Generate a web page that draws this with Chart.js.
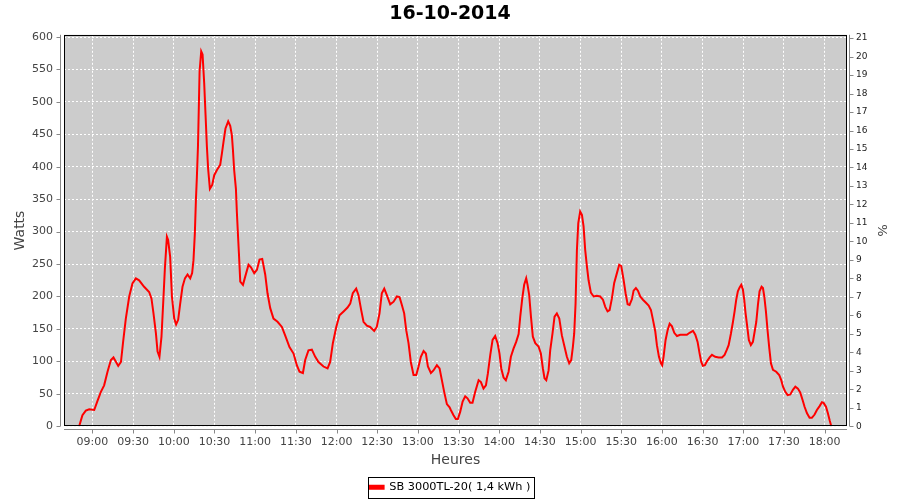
<!DOCTYPE html>
<html><head><meta charset="utf-8">
<style>html,body{margin:0;padding:0;background:#fff}#wrap{width:900px;height:500px;position:relative}</style>
<script src="https://cdn.jsdelivr.net/npm/chart.js@4"></script>
</head><body><div id="wrap"><canvas id="c" width="900" height="500"></canvas></div>
<script>
const chartTitle = "16-10-2014";
const seriesLabel = "SB 3000TL-20( 1,4 kWh )";
const xAxisTitle = "Heures";
const yAxisTitle = "Watts";
const y2AxisTitle = "%";
const timeTickLabels = ["09:00","09:30","10:00","10:30","11:00","11:30","12:00","12:30","13:00","13:30","14:00","14:30","15:00","15:30","16:00","16:30","17:00","17:30","18:00"];
// minutes since midnight
const times = [530.2,532.6,535.1,537.6,541.3,543.7,546.2,548.6,551.1,553.6,555.5,559,561,562.6,564.6,567.1,569.5,572,574.4,578.1,581.8,583.5,585,586.8,588,589.4,590.9,592.4,593.4,594.9,595.8,597.3,598.6,600.3,601.7,603.2,604.7,606.4,608.2,610.1,612.1,613.5,614.5,615.5,616.3,617,617.8,618.5,619,620.2,621.2,622.4,623.4,624.4,625.3,626.6,628.3,629.8,631.8,634.2,635.5,636.7,638.1,640.1,641.6,642.8,643.6,644.5,645.8,646.5,647.3,648,649,651,652.7,655.1,656.9,659.3,661.3,663.2,665.2,667.4,669.1,671.1,673.5,676.5,679.7,682.1,685.3,688.3,690.7,692.7,695.2,696.9,699.3,701.8,704.3,706.7,710.4,713.4,715.3,717.3,719.8,722.2,725.2,728.1,730.1,732,734.5,736.2,738.2,739.9,742.4,744.8,747.8,749.7,751.7,753.4,755.2,757.1,759.6,762.1,764.5,766.5,768.2,769.9,771.4,773.1,774.8,776.8,778.8,780.5,782.2,784.2,785.9,787.4,789.6,791.5,794,796,797.7,799.4,801.4,803.4,804.3,806.3,808,809.5,811.2,813,814.9,816.6,818.6,820.3,822.3,824.8,826.5,828.4,830.2,831.6,833.4,835.1,837,838.8,840.2,841.5,843.2,844.9,846.9,848.6,850.6,852.5,854.3,855.5,857,858.4,859.9,860.9,862.1,863.4,864.8,866.6,869,870.7,872.2,873.4,874.7,876.4,877.6,879.3,880.8,882.5,884.3,886.2,888.2,889.9,891.6,893.1,894.3,895.3,896.3,897.3,898.3,899.7,901,902.2,903.4,904.7,905.9,907.6,909.6,912,914.5,916.5,918.2,919.9,921.4,923.1,924.8,926.8,928.5,930,931.7,933.2,934.7,936.1,937.9,939.1,940.8,942.3,944,946,948.4,950.2,951.9,953.4,955.1,956.3,957.8,959.3,960.2,961.2,962.7,964.2,965.7,967.4,969.1,971.1,973.5,976,978.4,980.4,982.9,984.6,986.3,987.8,989,990.2,991.7,993.2,995.2,996.9,999.3,1001.8,1004.3,1006.2,1007.9,1009.2,1010.9,1012.4,1013.6,1014.8,1016,1017.3,1018.5,1019.7,1020.7,1021.7,1022.9,1024.1,1025.6,1027.1,1028.4,1029.6,1030.8,1032,1033.5,1034.5,1035.5,1036.7,1037.9,1039.2,1040.4,1041.9,1044.3,1046.5,1048,1049.3,1051,1052.7,1054.7,1056.6,1058.4,1060.3,1062,1063.8,1065.2,1067,1068.9,1070.6,1072.6,1074.3,1076.3,1078,1079.2,1081,1082.4,1083.7,1084.9];
const watts = [0,17,24,26,25,39,53,63,84,102,106,93,99,130,166,200,220,228,225,215,207,197,174,143,115,107,138,200,243,292,287,261,200,166,157,164,189,215,228,234,228,236,256,297,349,384,431,498,547,578,573,529,480,431,397,366,372,387,395,403,421,439,459,470,463,449,426,395,366,330,296,267,223,218,231,249,245,236,241,257,258,234,205,182,166,161,153,140,122,112,94,84,82,102,117,118,107,99,92,89,99,128,153,171,177,183,189,205,212,202,179,161,155,153,147,153,174,205,212,202,188,192,200,199,187,174,148,128,99,79,79,92,107,116,112,92,82,86,94,89,71,53,34,29,25,17,11,11,22,38,46,43,36,36,53,71,68,58,63,81,110,133,139,128,112,89,75,71,84,107,120,130,142,169,197,218,228,218,202,169,138,128,123,112,89,74,71,86,117,143,169,174,166,140,122,107,97,102,122,143,189,272,313,331,326,308,272,246,225,206,200,201,200,195,184,177,179,197,221,236,249,247,226,205,188,187,196,209,213,209,200,195,190,186,179,164,146,125,107,97,94,107,133,148,158,154,144,139,141,141,141,144,147,141,130,112,99,93,94,100,106,110,107,106,106,110,118,125,143,161,177,195,208,214,218,211,195,174,154,133,125,130,146,161,187,208,215,213,200,177,148,120,97,87,84,79,71,61,53,48,49,56,61,58,52,40,30,20,13,13,18,25,31,37,36,30,20,9,0];

const toMin = s => { const p = s.split(':'); return (+p[0]) * 60 + (+p[1]); };
const pad2 = n => String(n).padStart(2, '0');
const tickValues = timeTickLabels.map(toMin);

const FONT = "'DejaVu Sans', sans-serif";
const TICK_COLOR = '#444';

const bgPlugin = {
  id: 'bgPlugin',
  beforeDraw(chart) {
    const {ctx, chartArea: a} = chart;
    ctx.save();
    ctx.fillStyle = '#fff';
    ctx.fillRect(0, 0, chart.width, chart.height);
    ctx.fillStyle = '#cccccc';
    ctx.fillRect(a.left, a.top, a.right - a.left, a.bottom - a.top);
    ctx.restore();
  }
};

const axisDecor = {
  id: 'axisDecor',
  afterDraw(chart) {
    const {ctx, chartArea: a, scales} = chart;
    ctx.save();
    const seg = (x1, y1, x2, y2) => { ctx.beginPath(); ctx.moveTo(x1, y1); ctx.lineTo(x2, y2); ctx.stroke(); };
    ctx.lineWidth = 1;
    ctx.strokeStyle = '#000';
    ctx.strokeRect(Math.round(a.left) + 0.5, Math.round(a.top) + 0.5, Math.round(a.right - a.left) - 1, Math.round(a.bottom - a.top) - 1);
    ctx.strokeStyle = '#888';
    // left axis
    const lx = Math.round(a.left) - 3.5;
    seg(lx, a.top, lx, a.bottom);
    scales.y.ticks.forEach(t => { const y = Math.round(scales.y.getPixelForValue(t.value)) + 0.5; seg(lx - 4, y, lx, y); });
    // right axis
    const rx = Math.round(a.right) + 2.5;
    seg(rx, a.top, rx, a.bottom);
    scales.y2.ticks.forEach(t => { const y = Math.round(scales.y2.getPixelForValue(t.value)) + 0.5; seg(rx, y, rx + 4, y); });
    // bottom axis
    const by = Math.round(a.bottom) + 3.5;
    seg(a.left, by, a.right, by);
    scales.x.ticks.forEach(t => { const x = Math.round(scales.x.getPixelForValue(t.value)) + 0.5; seg(x, by, x, by + 4); });
    // legend frame
    const lg = chart.legend;
    if (lg && lg.legendHitBoxes && lg.legendHitBoxes.length) {
      const hb = lg.legendHitBoxes[0];
      ctx.strokeStyle = '#000';
      ctx.strokeRect(Math.round(hb.left - 2) + 0.5, Math.round(hb.top - 5) + 0.5, Math.round(hb.width + 5), Math.round(hb.height + 10));
    }
    ctx.restore();
  }
};

new Chart(document.getElementById('c'), {
  type: 'line',
  data: {
    datasets: [{
      label: seriesLabel,
      data: times.map((t, i) => ({x: t, y: watts[i]})),
      borderColor: 'rgb(255,0,0)',
      backgroundColor: 'rgb(255,0,0)',
      borderWidth: 2,
      pointRadius: 0,
      tension: 0,
      fill: false,
      yAxisID: 'y'
    }]
  },
  options: {
    responsive: false,
    animation: false,
    devicePixelRatio: 1,
    layout: {padding: {left: 0, right: 0, top: 0, bottom: -3}},
    plugins: {
      title: {
        display: true, text: chartTitle, color: '#000',
        font: {family: FONT, size: 19, weight: 'bold'},
        padding: {top: 3, bottom: 9}
      },
      legend: {
        display: true, position: 'bottom',
        labels: {
          color: '#000', font: {family: FONT, size: 11.3},
          boxWidth: 14, boxHeight: 3, padding: 7
        }
      },
      tooltip: {enabled: false}
    },
    scales: {
      x: {
        type: 'linear', min: 519, max: 1096.5,
        afterBuildTicks: s => { s.ticks = tickValues.map(v => ({value: v})); },
        afterFit: s => { s.height = 48.5; },
        ticks: {
          autoSkip: false, maxRotation: 0, color: TICK_COLOR, padding: 3,
          font: {family: FONT, size: 11},
          callback: v => pad2(Math.floor(v / 60)) + ':' + pad2(v % 60)
        },
        grid: {color: '#fff', lineWidth: 1, tickLength: 6, tickColor: 'rgba(0,0,0,0)'},
        border: {display: false, dash: [2, 2]},
        title: {display: true, text: xAxisTitle, color: TICK_COLOR, font: {family: FONT, size: 14}, padding: {top: 4, bottom: 6}}
      },
      y: {
        type: 'linear', position: 'left', min: 0, max: 603.5,
        afterFit: s => { s.width = 64; },
        ticks: {stepSize: 50, includeBounds: false, color: TICK_COLOR, padding: 4, font: {family: FONT, size: 11}},
        grid: {color: '#fff', lineWidth: 1, tickLength: 7, tickColor: 'rgba(0,0,0,0)'},
        border: {display: false, dash: [2, 2]},
        title: {display: true, text: yAxisTitle, color: TICK_COLOR, font: {family: FONT, size: 14}, padding: {top: 12, bottom: 0}}
      },
      y2: {
        type: 'linear', position: 'right', min: 0, max: 21.18,
        afterFit: s => { s.width = 53; },
        ticks: {stepSize: 1, includeBounds: false, color: '#222', padding: 3, font: {family: FONT, size: 9}},
        grid: {drawOnChartArea: false, tickLength: 6, tickColor: 'rgba(0,0,0,0)'},
        border: {display: false},
        title: {display: true, text: y2AxisTitle, color: TICK_COLOR, font: {family: FONT, size: 13}, padding: {top: 11, bottom: 0}}
      }
    }
  },
  plugins: [bgPlugin, axisDecor]
});
</script></body></html>
